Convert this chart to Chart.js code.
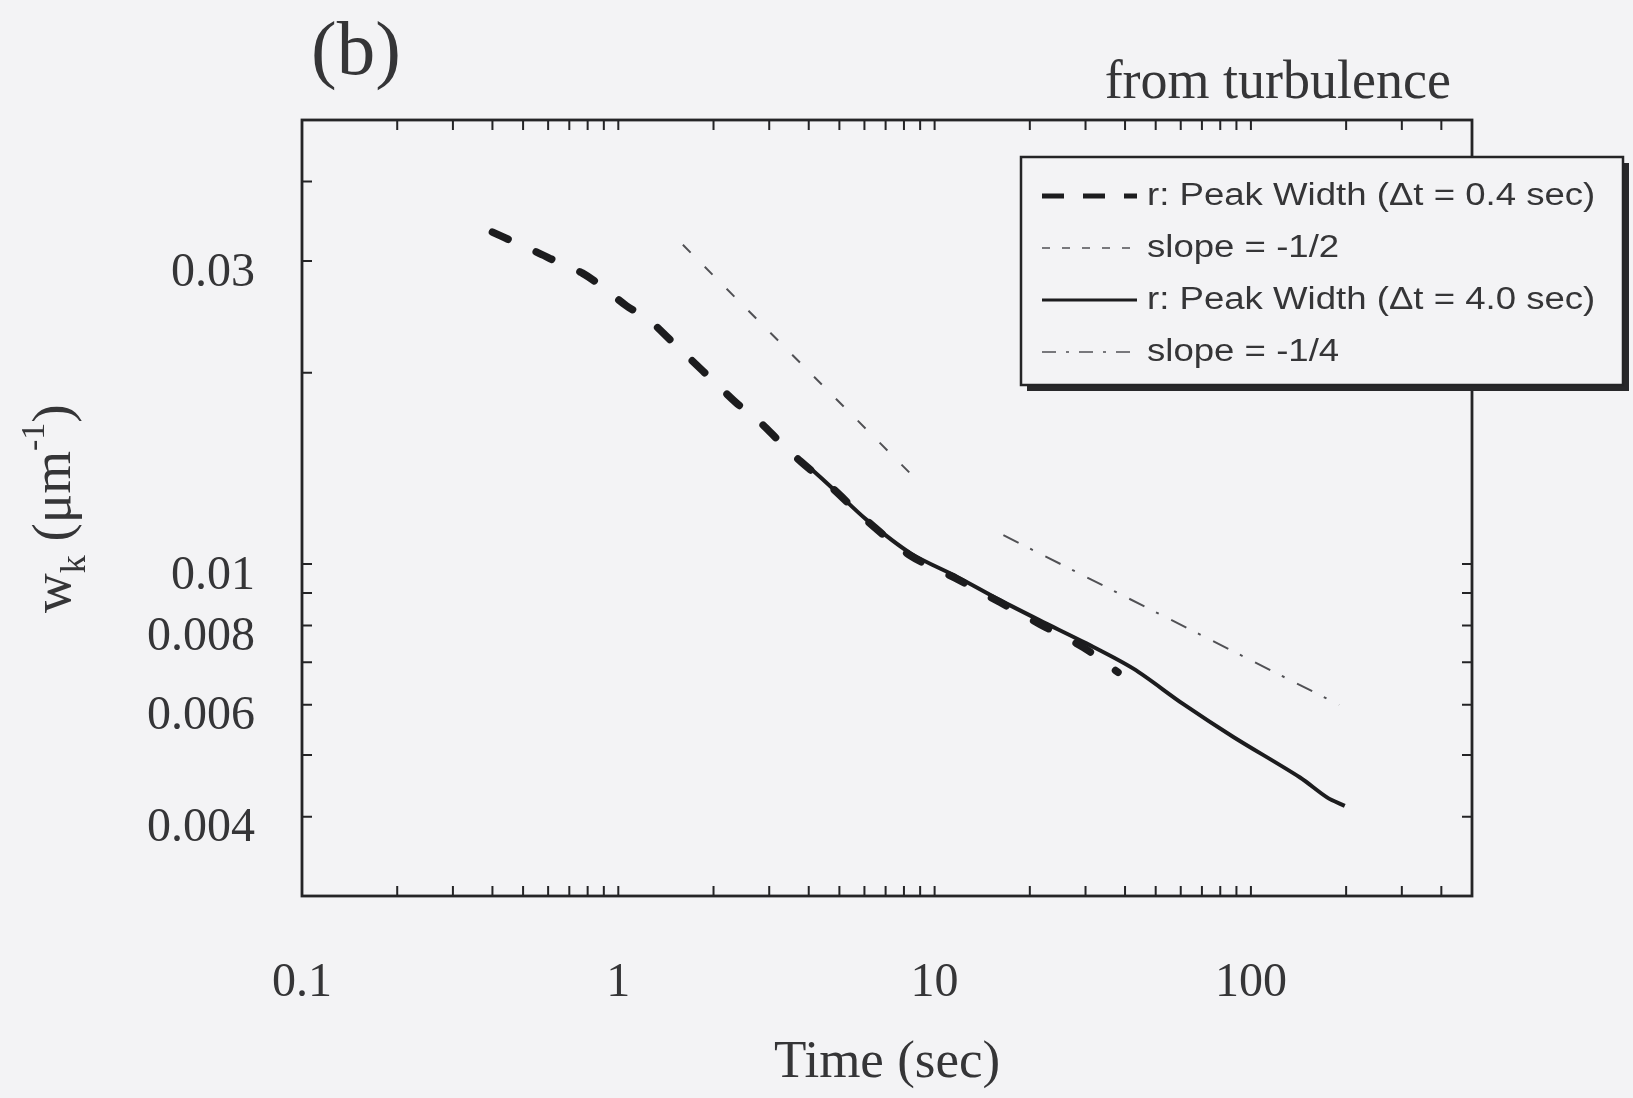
<!DOCTYPE html>
<html>
<head>
<meta charset="utf-8">
<title>Peak width decay</title>
<script src="https://cdn.jsdelivr.net/npm/chart.js@4.4.1/dist/chart.umd.min.js"></script>
<style>
    html, body { margin: 0; padding: 0; background: #f3f3f5; }
    #wrap { width: 1633px; height: 1098px; }
</style>
</head>
<body>
<div id="wrap"><canvas id="wk-chart" width="1633" height="1098"></canvas></div>
<script>
(function() {
    'use strict';

    // Peak width, Δt = 0.4 sec
    const shortTime  = [0.40, 0.47, 0.55, 0.65, 0.77, 0.90, 1.06, 1.24, 1.45, 1.71, 2.00, 2.37, 2.74, 3.23, 3.77, 4.8, 6.1, 8.4, 11.8, 16.1, 21.5, 29.5, 38];
    const shortWidth = [0.0333, 0.0321, 0.0310, 0.0298, 0.0287, 0.0272, 0.0255, 0.0243, 0.0226, 0.0209, 0.0194, 0.0179, 0.0169, 0.0156, 0.0145, 0.0131, 0.0117, 0.0103, 0.00946, 0.00870, 0.00804, 0.00739, 0.00675];

    // Peak width, Δt = 4.0 sec
    const longTime  = [4.0, 4.8, 6.1, 8.4, 11.8, 16.1, 21.5, 30.3, 42.5, 61, 88, 143, 174, 198];
    const longWidth = [0.01422, 0.0131, 0.01173, 0.01039, 0.00954, 0.00877, 0.00815, 0.00749, 0.00684, 0.00602, 0.00534, 0.00461, 0.00429, 0.00416];

    // reference power laws
    const halfSlopeTime     = [1.6, 8.6];
    const halfSlopeWidth    = [0.0318, 0.0137];
    const quarterSlopeTime  = [16.5, 190];
    const quarterSlopeWidth = [0.0111, 0.0060];

    // axis labels and tick marks
    const xTickLabels = [0.1, 1, 10, 100];
    const yTickLabels = [0.004, 0.006, 0.008, 0.01, 0.03];
    const xTickMarks = [0.2, 0.3, 0.4, 0.5, 0.6, 0.7, 0.8, 0.9, 1, 2, 3, 4, 5, 6, 7, 8, 9, 10,
                        20, 30, 40, 50, 60, 70, 80, 90, 100, 200, 300, 400];
    const yTickMarks = [0.004, 0.005, 0.006, 0.007, 0.008, 0.009, 0.01, 0.02, 0.03, 0.04];

    const BG = '#f3f3f5';
    const INK = '#242426';
    const TEXT = '#353537';
    const SERIF = '"Liberation Serif", "Times New Roman", serif';

    const toPoints = (xs, ys) => xs.map((x, i) => ({ x: x, y: ys[i] }));

    /**
     * Frame with inward tick marks on all four sides
     */
    const frameTicks = {
        id: 'frameTicks',
        afterDatasetsDraw(chart, args, opts) {
            const { ctx, chartArea: a } = chart;
            const x = chart.scales.x;
            const y = chart.scales.y;

            ctx.save();
            ctx.strokeStyle = opts.color;
            ctx.lineWidth = opts.tickWidth;
            ctx.beginPath();
            xTickMarks.forEach(v => {
                const px = x.getPixelForValue(v);
                ctx.moveTo(px, a.bottom);
                ctx.lineTo(px, a.bottom - opts.length);
                ctx.moveTo(px, a.top);
                ctx.lineTo(px, a.top + opts.length);
            });
            yTickMarks.forEach(v => {
                const py = y.getPixelForValue(v);
                ctx.moveTo(a.left, py);
                ctx.lineTo(a.left + opts.length, py);
                ctx.moveTo(a.right, py);
                ctx.lineTo(a.right - opts.length, py);
            });
            ctx.stroke();

            ctx.lineWidth = opts.frameWidth;
            ctx.strokeRect(a.left, a.top, a.width, a.height);
            ctx.restore();
        }
    };

    /**
     * Panel letter, caption and the y title with sub/superscripts
     */
    const annotations = {
        id: 'annotations',
        afterDraw(chart, args, o) {
            const ctx = chart.ctx;
            ctx.save();
            ctx.fillStyle = TEXT;
            ctx.textBaseline = 'alphabetic';

            ctx.font = `77px ${SERIF}`;
            ctx.textAlign = 'left';
            ctx.fillText(o.panel, 311, 74);

            ctx.font = `54px ${SERIF}`;
            ctx.textAlign = 'right';
            ctx.fillText(o.caption, 1451, 98);

            // rotated y title: w_k (μm^-1)
            ctx.translate(70, 613);
            ctx.rotate(-Math.PI / 2);
            ctx.textAlign = 'left';
            let cursor = 0;
            o.yTitle.forEach(part => {
                ctx.font = `${part.size}px ${SERIF}`;
                ctx.fillText(part.text, cursor, part.shift);
                cursor += ctx.measureText(part.text).width;
            });
            ctx.restore();
        }
    };

    /**
     * Boxed legend with a drop shadow, drawn over the right frame edge
     */
    const boxedLegend = {
        id: 'boxedLegend',
        afterDraw(chart, args, o) {
            const ctx = chart.ctx;
            ctx.save();

            ctx.fillStyle = o.shadow;
            ctx.fillRect(o.left + o.shadowOffset, o.top + o.shadowOffset, o.width, o.height);
            ctx.fillStyle = BG;
            ctx.fillRect(o.left, o.top, o.width, o.height);
            ctx.strokeStyle = INK;
            ctx.lineWidth = o.borderWidth;
            ctx.strokeRect(o.left, o.top, o.width, o.height);

            chart.data.datasets.forEach((ds, i) => {
                const cy = o.firstRow + i * o.rowStep;

                ctx.beginPath();
                ctx.setLineDash(ds.legendDash || []);
                ctx.lineWidth = ds.legendWidth || ds.borderWidth;
                ctx.strokeStyle = ds.borderColor;
                ctx.lineCap = 'butt';
                ctx.moveTo(o.sampleStart, cy);
                ctx.lineTo(o.sampleEnd, cy);
                ctx.stroke();
                ctx.setLineDash([]);

                ctx.save();
                ctx.translate(o.textStart, cy);
                ctx.scale(o.textStretch, 1);
                ctx.font = o.font;
                ctx.fillStyle = TEXT;
                ctx.textBaseline = 'middle';
                ctx.fillText(ds.label, 0, 0);
                ctx.restore();
            });

            ctx.restore();
        }
    };

    const ctx = document.getElementById('wk-chart');

    new Chart(ctx, {
        type: 'line',
        data: {
            datasets: [{
                label: 'r: Peak Width (Δt = 0.4 sec)',
                data: toPoints(shortTime, shortWidth),
                borderColor: '#1c1c1e',
                borderWidth: 7.5,
                borderDash: [17, 31],
                borderCapStyle: 'round',
                tension: 0.3,
                legendDash: [22, 19],
                legendWidth: 5
            }, {
                label: 'slope = -1/2',
                data: toPoints(halfSlopeTime, halfSlopeWidth),
                borderColor: '#505054',
                borderWidth: 2,
                borderDash: [11, 20],
                legendDash: [8, 12],
                legendWidth: 1.6
            }, {
                label: 'r: Peak Width (Δt = 4.0 sec)',
                data: toPoints(longTime, longWidth),
                borderColor: '#1c1c1e',
                borderWidth: 4,
                borderJoinStyle: 'round',
                tension: 0.3,
                legendWidth: 3
            }, {
                label: 'slope = -1/4',
                data: toPoints(quarterSlopeTime, quarterSlopeWidth),
                borderColor: '#505054',
                borderWidth: 2,
                borderDash: [17, 13, 3, 14],
                legendDash: [14, 10, 3, 10],
                legendWidth: 1.6
            }]
        },
        options: {
            responsive: false,
            animation: false,
            devicePixelRatio: 1,
            layout: {
                padding: { top: 120, right: 161, bottom: 0, left: 0 }
            },
            elements: {
                point: { radius: 0 },
                line: { tension: 0, fill: false }
            },
            plugins: {
                legend: { display: false },
                tooltip: { enabled: false },
                frameTicks: { color: INK, length: 10, tickWidth: 2, frameWidth: 2.8 },
                annotations: {
                    panel: '(b)',
                    caption: 'from turbulence',
                    yTitle: [
                        { text: 'w', size: 55, shift: 0 },
                        { text: 'k', size: 36, shift: 15 },
                        { text: ' (μm', size: 55, shift: 0 },
                        { text: '-1', size: 34, shift: -26 },
                        { text: ')', size: 55, shift: 0 }
                    ]
                },
                boxedLegend: {
                    left: 1021, top: 157, width: 602, height: 228,
                    shadowOffset: 6, shadow: '#28282a', borderWidth: 2.5,
                    firstRow: 196, rowStep: 52,
                    sampleStart: 1042, sampleEnd: 1137, textStart: 1147,
                    font: '31px "Liberation Sans", Arial, sans-serif',
                    textStretch: 1.18
                }
            },
            scales: {
                x: {
                    type: 'logarithmic',
                    position: 'bottom',
                    min: 0.1,
                    max: 500,
                    afterBuildTicks: scale => {
                        scale.ticks = xTickLabels.map(v => ({ value: v }));
                    },
                    afterFit: scale => { scale.height = 1098 - 896; },
                    ticks: {
                        autoSkip: false,
                        maxRotation: 0,
                        padding: 59,
                        color: TEXT,
                        font: { family: SERIF, size: 48 },
                        callback: value => String(value)
                    },
                    grid: { display: false, drawTicks: false },
                    border: { display: false },
                    title: {
                        display: true,
                        text: 'Time (sec)',
                        color: TEXT,
                        font: { family: SERIF, size: 53 },
                        padding: { top: 0, bottom: 3 }
                    }
                },
                y: {
                    type: 'logarithmic',
                    position: 'left',
                    min: 0.003,
                    max: 0.05,
                    afterBuildTicks: scale => {
                        scale.ticks = yTickLabels.map(v => ({ value: v }));
                    },
                    afterFit: scale => { scale.width = 302; },
                    ticks: {
                        autoSkip: false,
                        padding: 47,
                        labelOffset: 12,
                        color: TEXT,
                        font: { family: SERIF, size: 48 },
                        callback: value => String(value)
                    },
                    grid: { display: false, drawTicks: false },
                    border: { display: false }
                }
            }
        },
        plugins: [frameTicks, annotations, boxedLegend]
    });
})();
</script>
</body>
</html>
